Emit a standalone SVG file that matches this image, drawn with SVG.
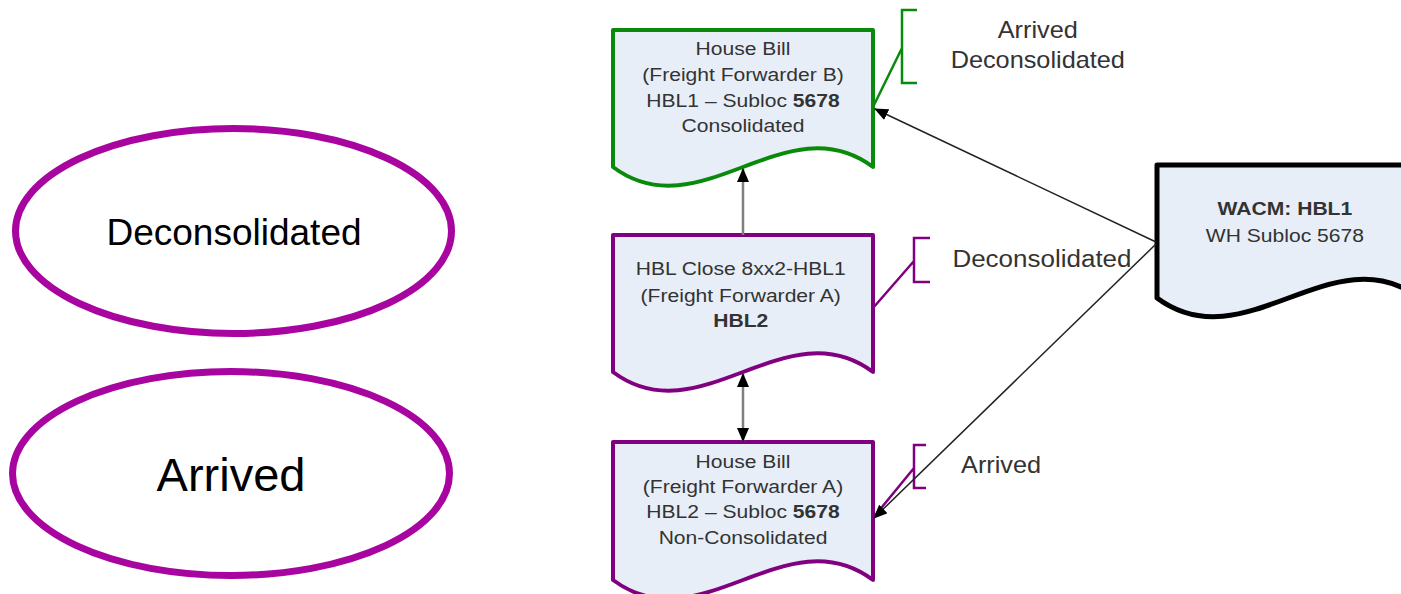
<svg xmlns="http://www.w3.org/2000/svg" width="1401" height="594" viewBox="0 0 1401 594">
<style>
.ell{fill:#fff;stroke:#A8049F;stroke-width:7}
.doc{fill:#E8EEF8;stroke-width:4;stroke-linejoin:round}
.g{stroke:#0A8A0A}
.p{stroke:#800080}
.k{stroke:#000;stroke-width:5}
.t{font-family:"Liberation Sans",Arial,sans-serif;font-size:18.5px;fill:#333;text-anchor:middle}
.lbl{font-family:"Liberation Sans",Arial,sans-serif;font-size:23px;fill:#333;text-anchor:middle}
.big{font-family:"Liberation Sans",Arial,sans-serif;fill:#000;text-anchor:middle}
.b{font-weight:bold}
.br{fill:none;stroke-width:2.5}
.ln{fill:none;stroke:#222;stroke-width:1.5}
.gl{fill:none;stroke:#808080;stroke-width:2.5}
</style>
<defs>
<marker id="ah" markerUnits="userSpaceOnUse" markerWidth="14" markerHeight="12" refX="13" refY="6" orient="auto-start-reverse" viewBox="0 0 14 12">
<path d="M0,0 L14,6 L0,12 Z" fill="#000"/>
</marker>
</defs>

<g id="ellipse-deconsolidated">
<ellipse class="ell" cx="233.5" cy="231" rx="218" ry="102.5"/>
<text class="big" x="234" y="245" font-size="37">Deconsolidated</text>
</g>
<g id="ellipse-arrived">
<ellipse class="ell" cx="231" cy="473.5" rx="218.5" ry="102"/>
<text class="big" x="231" y="491" font-size="47">Arrived</text>
</g>

<g id="doc-hbl1">
<path class="doc g" d="M613,30 H873 V167 C786,102 700,232 613,167 Z"/>
<g transform="matrix(1.14,0,0,1,-104,0)">
<text class="t" x="743" y="55">House Bill</text>
<text class="t" x="743" y="81">(Freight Forwarder B)</text>
<text class="t" x="743" y="107">HBL1 – Subloc <tspan class="b">5678</tspan></text>
<text class="t" x="743" y="132">Consolidated</text>
</g>
</g>

<g id="doc-hbl-close">
<path class="doc p" d="M613,235 H873 V372 C786,307 700,437 613,372 Z"/>
<g transform="matrix(1.14,0,0,1,-104,0)">
<text class="t" x="741" y="275">HBL Close 8xx2-HBL1</text>
<text class="t" x="741" y="302">(Freight Forwarder A)</text>
<text class="t b" x="741" y="327">HBL2</text>
</g>
</g>

<g id="doc-hbl2">
<path class="doc p" d="M613,442 H873 V580 C786,515 700,645 613,580 Z"/>
<g transform="matrix(1.14,0,0,1,-104,0)">
<text class="t" x="743" y="468">House Bill</text>
<text class="t" x="743" y="493">(Freight Forwarder A)</text>
<text class="t" x="743" y="518">HBL2 – Subloc <tspan class="b">5678</tspan></text>
<text class="t" x="743" y="544">Non-Consolidated</text>
</g>
</g>

<g id="doc-wacm">
<path class="doc k" d="M1157,165 H1420 V298 C1332,233 1245,363 1157,298 Z"/>
<g transform="matrix(1.14,0,0,1,-180,0)">
<text class="t b" x="1285" y="215">WACM: HBL1</text>
<text class="t" x="1285" y="242">WH Subloc 5678</text>
</g>
</g>

<g id="label-arrived-deconsolidated">
<path class="br g" d="M917,10 H902 V83 H917 M902,48 L873,107"/>
<g transform="matrix(1.1,0,0,1,-104,0)">
<text class="lbl" x="1038" y="38">Arrived</text>
<text class="lbl" x="1038" y="68">Deconsolidated</text>
</g>
</g>
<g id="label-deconsolidated">
<path class="br p" d="M930,238 H914 V282 H930 M914,261 L873,308"/>
<text class="lbl" x="1042" y="267" transform="matrix(1.13,0,0,1,-135.5,0)">Deconsolidated</text>
</g>
<g id="label-arrived">
<path class="br p" d="M926,445 H914 V488 H926 M914,468 L873,518"/>
<text class="lbl" x="1001" y="473" transform="matrix(1.1,0,0,1,-100,0)">Arrived</text>
</g>

<g id="connectors">
<line class="gl" x1="743" y1="235" x2="743" y2="169" marker-end="url(#ah)"/>
<line class="gl" x1="743" y1="374" x2="743" y2="441" marker-start="url(#ah)" marker-end="url(#ah)"/>
<line class="ln" x1="1156" y1="242" x2="875" y2="109" marker-end="url(#ah)"/>
<line class="ln" x1="1156" y1="244" x2="874" y2="518" marker-end="url(#ah)"/>
</g>
</svg>
